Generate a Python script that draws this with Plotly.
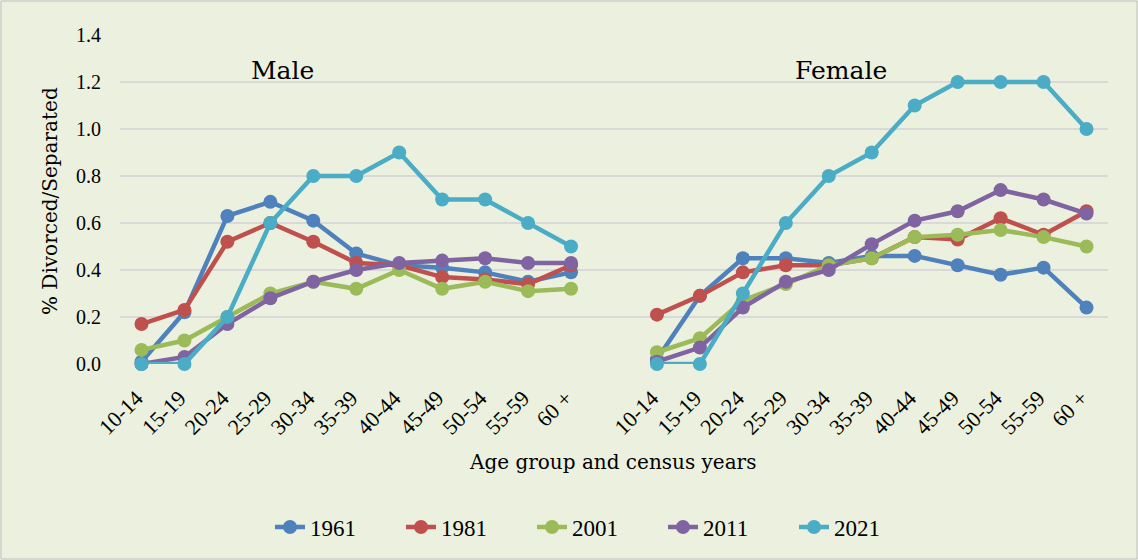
import plotly.graph_objects as go

age_groups = ["10-14", "15-19", "20-24", "25-29", "30-34", "35-39",
              "40-44", "45-49", "50-54", "55-59", "60 +"]
years = ["1961", "1981", "2001", "2011", "2021"]

male_1961 = [0.01, 0.22, 0.63, 0.69, 0.61, 0.47, 0.42, 0.41, 0.39, 0.35, 0.39]
male_1981 = [0.17, 0.23, 0.52, 0.60, 0.52, 0.43, 0.42, 0.37, 0.36, 0.34, 0.42]
male_2001 = [0.06, 0.10, 0.20, 0.30, 0.35, 0.32, 0.40, 0.32, 0.35, 0.31, 0.32]
male_2011 = [0.00, 0.03, 0.17, 0.28, 0.35, 0.40, 0.43, 0.44, 0.45, 0.43, 0.43]
male_2021 = [0.00, 0.00, 0.20, 0.60, 0.80, 0.80, 0.90, 0.70, 0.70, 0.60, 0.50]

female_1961 = [0.02, 0.29, 0.45, 0.45, 0.43, 0.46, 0.46, 0.42, 0.38, 0.41, 0.24]
female_1981 = [0.21, 0.29, 0.39, 0.42, 0.42, 0.45, 0.54, 0.53, 0.62, 0.55, 0.65]
female_2001 = [0.05, 0.11, 0.27, 0.34, 0.42, 0.45, 0.54, 0.55, 0.57, 0.54, 0.50]
female_2011 = [0.01, 0.07, 0.24, 0.35, 0.40, 0.51, 0.61, 0.65, 0.74, 0.70, 0.64]
female_2021 = [0.00, 0.00, 0.30, 0.60, 0.80, 0.90, 1.10, 1.20, 1.20, 1.20, 1.00]

colors = ["#4F81BD", "#C0504D", "#9BBB59", "#8064A2", "#4BACC6"]

male = [male_1961, male_1981, male_2001, male_2011, male_2021]
female = [female_1961, female_1981, female_2001, female_2011, female_2021]

n = len(age_groups)
x_all = list(range(n)) + [n] + list(range(n + 1, 2 * n + 1))
tick_vals = list(range(n)) + list(range(n + 1, 2 * n + 1))
tick_text = age_groups + age_groups

NUMFONT = "Liberation Serif"
TXTFONT = "DejaVu Serif"
BG = "#EBF1DE"

L, R, T, B = 120, 30, 35, 196
W, H = 1138, 560
pw = W - L - R
ph = H - T - B

fig = go.Figure()
for yr, c, m, f in zip(years, colors, male, female):
    fig.add_trace(go.Scatter(
        x=x_all, y=m + [None] + f, name=yr, mode="lines+markers",
        line=dict(color=c, width=4.5), marker=dict(color=c, size=14),
        connectgaps=False, cliponaxis=False,
    ))

fig.update_layout(
    width=W, height=H,
    margin=dict(l=L, r=R, t=T, b=B, autoexpand=False),
    paper_bgcolor=BG, plot_bgcolor=BG,
    font=dict(family=NUMFONT, size=20, color="#000000"),
    showlegend=True,
    legend=dict(orientation="h", x=(270 - L) / pw, xanchor="left",
                y=(T + ph - 527) / ph, yanchor="middle",
                font=dict(family=NUMFONT, size=23), bgcolor="rgba(0,0,0,0)",
                entrywidth=86, entrywidthmode="pixels", tracegroupgap=0),
    xaxis=dict(range=[-0.5, 2 * n + 0.5], tickmode="array", tickvals=tick_vals,
               ticktext=tick_text, tickangle=-45, showgrid=False, zeroline=False,
               showline=False, ticks="", automargin=False, ticklabelstandoff=16,
               ticklabelshift=-5, tickfont=dict(family=NUMFONT, size=22)),
    yaxis=dict(range=[0, 1.4], dtick=0.2, tickformat=".1f", showgrid=True,
               gridcolor="#D9D9D9", gridwidth=2, zeroline=False, showline=False,
               ticks="", automargin=False, ticklabelstandoff=18,
               tickfont=dict(family=NUMFONT, size=20)),
)

fig.add_annotation(x=(50 - L) / pw, xref="paper", y=(T + ph - 201) / ph, yref="paper",
                   text="% Divorced/Separated", textangle=-90, showarrow=False,
                   xanchor="center", yanchor="middle",
                   font=dict(family=TXTFONT, size=20))
fig.add_annotation(x=3.28, xref="x", y=1.251, yref="y", text="Male", showarrow=False,
                   xanchor="center", yanchor="middle",
                   font=dict(family=TXTFONT, size=25))
fig.add_annotation(x=16.28, xref="x", y=1.251, yref="y", text="Female", showarrow=False,
                   xanchor="center", yanchor="middle",
                   font=dict(family=TXTFONT, size=25))
fig.add_annotation(x=(612 - L) / pw, xref="paper", y=(T + ph - 462) / ph, yref="paper",
                   xanchor="center", yanchor="middle",
                   text="Age group and census years", showarrow=False,
                   font=dict(family=TXTFONT, size=20))

# chart border around whole figure
fig.add_shape(type="rect", xref="paper", yref="paper",
              x0=(1 - L) / pw, x1=(W - 1 - L) / pw,
              y0=(T + ph - (H - 1)) / ph, y1=(T + ph - 1) / ph,
              line=dict(color="#BFBFBF", width=1), fillcolor="rgba(0,0,0,0)", layer="below")

fig.write_html("out.html", config={"displayModeBar": False},
               post_script="document.body.style.margin='0px';document.body.style.padding='0px';")
